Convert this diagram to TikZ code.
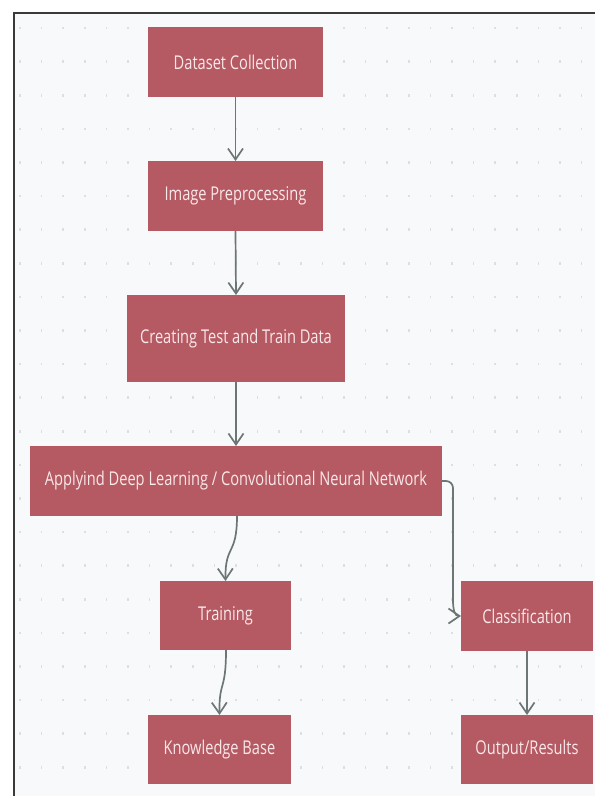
\documentclass[tikz,border=0pt]{standalone}
\usepackage{fontspec}
\setmainfont[FakeStretch=0.77]{Open Sans}
\usetikzlibrary{arrows.meta}
\definecolor{boxfill}{HTML}{B55A63}
\definecolor{boxtext}{HTML}{F9E8EA}
\definecolor{bgcol}{HTML}{F8F9FA}
\definecolor{dotcol}{HTML}{DDDFE2}
\definecolor{linecol}{HTML}{6D7676}
\definecolor{framecol}{HTML}{3A3A3A}
\tikzset{
  stepbox/.style={rectangle, fill=boxfill, draw=none, inner sep=0pt, outer sep=0pt,
    text=boxtext, font=\fontsize{19}{21}\selectfont, align=center},
  conn/.style={draw=linecol, line width=1.7pt, -{Straight Barb[length=11pt,width=15pt,line width=1.7pt]}},
}
\begin{document}
\begin{tikzpicture}[x=1pt,y=-1pt]
\useasboundingbox (0,0) rectangle (595,796);
\fill[white] (0,0) rectangle (595,796);
\fill[bgcol] (14,13) rectangle (595,796);
\foreach \i in {0,...,26}{
  \foreach \j in {0,...,22}{
    \fill[dotcol] ({20+21.6*\i-0.8},{28+33.6*\j-1.3}) rectangle ({20+21.6*\i+0.8},{28+33.6*\j+1.3});
  }
}
\draw[framecol, line width=1.3pt] (14,796) -- (14,13) -- (595,13);

\node[stepbox, minimum width=175pt, minimum height=70pt] (d) at (235.5,62) {Dataset Collection};
\node[stepbox, minimum width=175pt, minimum height=70pt] (ip) at (235.5,196) {Image Preprocessing};
\node[stepbox, minimum width=218pt, minimum height=87pt] (ct) at (236,338.5) {Creating Test and Train Data};
\node[stepbox, minimum width=412pt, minimum height=70pt] (ap) at (236,481) {Applyind Deep Learning / Convolutional Neural Network};
\node[stepbox, minimum width=131pt, minimum height=69pt] (tr) at (225.5,615.5) {Training};
\node[stepbox, minimum width=132pt, minimum height=70pt] (cl) at (527,616) {Classification};
\node[stepbox, minimum width=143pt, minimum height=69pt] (kb) at (219.5,749.5) {Knowledge Base};
\node[stepbox, minimum width=132pt, minimum height=69pt] (out) at (527,749.5) {Output/Results};

\draw[conn] (d.south) -- (ip.north);
\draw[conn] (ip.south) -- (ct.north);
\draw[conn] (ct.south) -- (ap.north);
\draw[conn] (237,516) .. controls (237,556) and (225,544) .. (tr.north);
\draw[conn] (226,650) .. controls (226,692) and (219,680) .. (kb.north);
\draw[conn] (cl.south) -- (out.north);
\draw[draw=linecol, line width=1.7pt, rounded corners=7pt] (ap.east) -- (453,481) -- (453,600);
\draw[conn] (453,599.5) .. controls (453,611) and (455,616) .. (cl.west);
\end{tikzpicture}
\end{document}
